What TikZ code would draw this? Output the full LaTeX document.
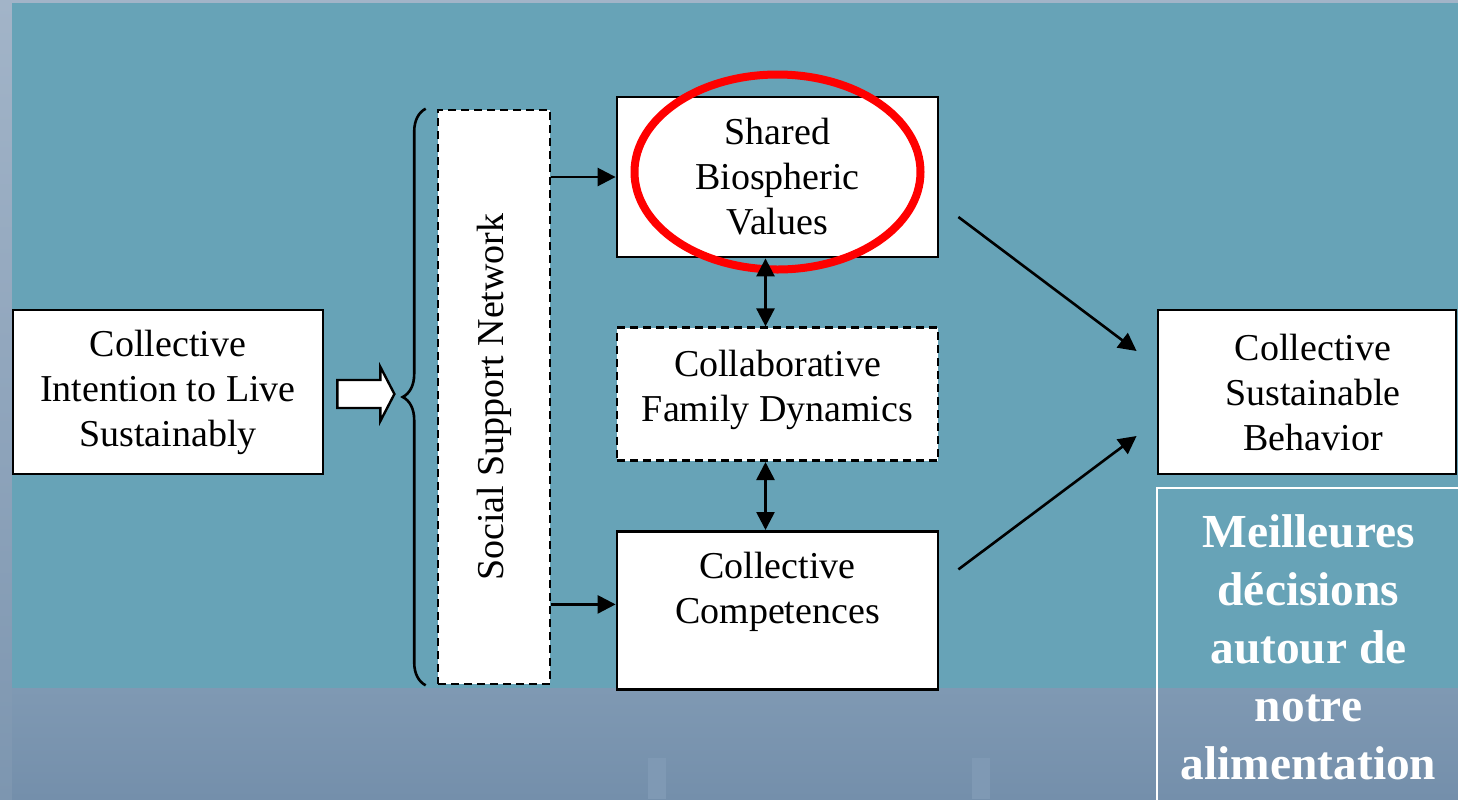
\documentclass[tikz,border=0pt]{standalone}
\usepackage{fontspec}
\setmainfont{Liberation Serif}
\usetikzlibrary{arrows.meta, positioning, decorations.pathreplacing}

\definecolor{slideteal}{RGB}{103,163,183}
\definecolor{slideband}{RGB}{127,153,179}
\definecolor{slidebanddark}{RGB}{116,143,171}
\definecolor{slideedge}{RGB}{162,180,200}
\definecolor{slideedgedark}{RGB}{125,150,176}
\definecolor{slidebar}{RGB}{127,153,180}
\definecolor{ringred}{RGB}{255,0,0}

\begin{document}
\begin{tikzpicture} [
	x=0.5pt, y=-0.5pt, % one unit is one pixel of the slide, counted downwards
	>={Triangle[length=9pt, width=9pt]}, % filled arrow heads
	every node/.style={font=\fontsize{19}{22.5}\selectfont},
	box/.style={draw, line width=1.4pt, fill=white, align=center, inner sep=0pt}, % plain boxes
	dashbox/.style={box, line width=1.3pt, dash pattern=on 4pt off 2.5pt}, % dashed boxes
	link/.style={line width=1.3pt, ->},
	twoway/.style={line width=1.3pt, <->},
	redring/.style={draw=ringred, line width=4pt},
	notebox/.style={draw=white, line width=1pt, align=center, text=white, font=\fontsize{23.7}{29}\selectfont\bfseries},
	]
	% slide background
	\clip (0,0) rectangle (1458,799);
	\shade[top color=slideedge, bottom color=slideedgedark] (0,0) rectangle (1458,799);
	\fill[slideteal] (12,3) rectangle (1458,688);
	\shade[top color=slideband, bottom color=slidebanddark] (12,688) rectangle (1458,799);
	\fill[slidebar] (648,758) rectangle (666,799);
	\fill[slidebar] (972,758) rectangle (990,799);

	\node[box, minimum width=155pt, minimum height=82pt] (intent) at (168,392) {Collective\\Intention to Live\\Sustainably};
	\node[dashbox, minimum width=56pt, minimum height=287pt] (ssn) at (494,397) {\rotatebox{90}{Social Support Network}};
	\node[box, minimum width=160.5pt, minimum height=80pt] (shared) at (777.5,177) {Shared\\Biospheric\\Values};
	\node[dashbox, minimum width=160.5pt, minimum height=66.5pt, below=34pt of shared] (collab) {Collaborative\\Family Dynamics\rule[-8pt]{0pt}{0pt}};
	\node[box, minimum width=160.5pt, minimum height=79pt, below=34pt of collab] (comp) {Collective\\Competences\\\mbox{}};
	\node[box, minimum width=149pt, minimum height=82pt] (behav) at (1307,392) {\hspace*{6pt}Collective\\\hspace*{6pt}Sustainable\\\hspace*{6pt}Behavior};

	% hollow block arrow and brace
	\draw[line width=1.2pt, fill=white] ([xshift=6.5pt, yshift=6pt]intent.east) -- ++(21.5pt,0) -- ++(0,6.5pt) -- ++(7pt,-13.5pt) -- ++(-7pt,-13.5pt) -- ++(0,6.5pt) -- ++(-21.5pt,0) -- cycle;
	\draw[line width=1.3pt, decorate, decoration={brace, amplitude=11.5pt}] ([xshift=-5.5pt]ssn.south west) -- ([xshift=-5.5pt]ssn.north west);

	\draw[redring] ([yshift=2.5pt]shared.center) ellipse [x radius=71.5pt, y radius=48.75pt];

	\coordinate (compin) at ([yshift=3pt]comp.west);
	\draw[link] (ssn.east |- shared.west) -- (shared.west);
	\draw[link] (ssn.east |- compin) -- (compin);
	\draw[twoway] ([xshift=-6pt]shared.south) -- ([xshift=-6pt]collab.north);
	\draw[twoway] ([xshift=-6pt]collab.south) -- ([xshift=-6pt]comp.north);
	\draw[link] ([xshift=9.5pt, yshift=-20pt]shared.east) -- ([xshift=-10pt, yshift=20.5pt]behav.west);
	\draw[link] ([xshift=9.5pt, yshift=20.5pt]comp.east) -- ([xshift=-10pt, yshift=-22pt]behav.west);

	\node[notebox, minimum width=151.5pt, minimum height=159pt] (note) at (1308.5,647) {Meilleures\\décisions\\autour de\\notre\\alimentation};
\end{tikzpicture}
\end{document}
